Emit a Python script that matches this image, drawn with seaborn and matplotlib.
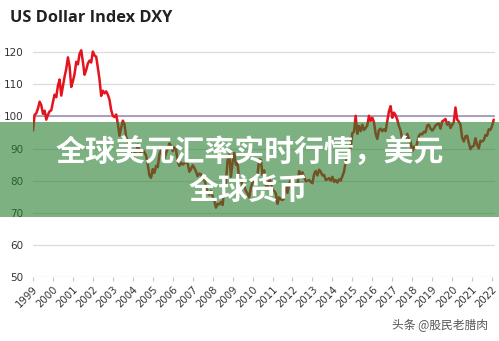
import numpy as np
import pandas as pd
import matplotlib
matplotlib.use("Agg")
import matplotlib.pyplot as plt
import seaborn as sns
from matplotlib.patches import Rectangle

# ---- data (monthly DXY) ----
start_year = 1999
dxy = [
    95.6, 100.5, 101.0, 102.5, 104.6, 103.5, 100.8, 101.8, 99.0, 100.5, 101.6, 101.9,   # 1999
    104.5, 106.8, 106.0, 109.6, 111.5, 106.5, 109.5, 112.4, 114.8, 118.4, 115.6, 109.2,  # 2000
    111.0, 113.2, 117.0, 116.2, 119.5, 120.6, 117.0, 113.0, 114.5, 116.5, 117.4, 116.8,  # 2001
    120.2, 119.0, 118.6, 115.2, 111.5, 106.4, 108.0, 107.2, 107.8, 106.8, 105.2, 102.0,  # 2002
    100.2, 99.8, 100.6, 97.8, 94.0, 96.4, 98.7, 97.6, 93.6, 92.6, 91.0, 87.4,            # 2003
    86.8, 88.6, 88.5, 91.2, 89.0, 88.8, 89.6, 88.9, 87.8, 85.0, 81.6, 80.9,              # 2004
    83.6, 82.4, 84.6, 84.2, 88.1, 89.6, 88.0, 86.6, 88.6, 90.0, 91.6, 90.9,              # 2005
    89.2, 90.4, 89.6, 86.0, 84.6, 85.6, 85.0, 85.4, 85.8, 85.4, 82.8, 83.6,              # 2006
    84.8, 84.0, 82.8, 81.4, 82.2, 82.0, 80.4, 81.0, 78.2, 76.4, 75.6, 76.8,              # 2007
    75.2, 73.8, 71.6, 72.8, 72.6, 73.4, 72.4, 77.4, 79.6, 86.4, 88.2, 81.2,              # 2008
    85.8, 88.6, 85.0, 85.6, 80.0, 80.2, 78.6, 78.2, 76.8, 76.0, 74.8, 77.8,              # 2009
    79.4, 80.6, 81.2, 82.0, 86.6, 86.4, 81.8, 83.2, 78.6, 77.4, 81.0, 79.2,              # 2010
    77.2, 76.8, 76.0, 72.8, 74.8, 74.2, 74.0, 74.4, 78.6, 76.2, 78.8, 80.4,              # 2011
    78.8, 78.4, 79.0, 78.6, 83.0, 81.8, 82.6, 81.2, 79.8, 80.0, 80.2, 79.6,              # 2012
    79.2, 82.0, 83.0, 81.6, 83.4, 82.8, 81.6, 81.8, 80.2, 80.4, 80.8, 80.0,              # 2013
    81.2, 79.6, 80.2, 79.4, 80.4, 80.0, 81.4, 82.8, 86.0, 87.0, 88.4, 90.4,              # 2014
    94.8, 95.2, 100.2, 94.6, 97.0, 95.4, 97.4, 95.8, 96.4, 97.2, 100.2, 98.6,            # 2015
    99.6, 98.2, 94.6, 93.0, 95.8, 96.2, 95.4, 96.0, 95.4, 98.4, 101.6, 103.2,            # 2016
    99.6, 101.2, 100.4, 99.0, 97.0, 95.6, 92.8, 92.6, 93.0, 94.6, 93.0, 92.2,            # 2017
    89.2, 90.6, 90.0, 91.8, 94.0, 94.6, 94.4, 95.2, 95.0, 97.2, 97.4, 96.2,              # 2018
    95.6, 96.2, 97.2, 97.6, 97.8, 96.2, 98.4, 98.8, 99.2, 97.4, 98.2, 96.4,              # 2019
    97.4, 98.2, 102.8, 99.0, 98.4, 97.4, 93.4, 92.2, 93.8, 94.0, 91.8, 89.8,             # 2020
    90.6, 90.8, 93.2, 91.2, 90.0, 92.4, 92.2, 92.6, 94.2, 94.0, 96.0, 95.8,              # 2021
    97.0, 99.0,                                                                         # 2022
]
years = list(range(1999, 2023))
y_ticks = [50, 60, 70, 80, 90, 100, 110, 120]
title = "US Dollar Index DXY"
overlay_lines = ["全球美元汇率实时行情，美元", "全球货币"]
watermark = "头条 @股民老腊肉"

df = pd.DataFrame({"t": start_year + np.arange(len(dxy)) / 12.0, "dxy": dxy})

sns.set_theme(style="white")
plt.rcParams["font.family"] = ["DejaVu Sans"]

fig = plt.figure(figsize=(4.99, 3.41), dpi=100)
fig.patch.set_facecolor("white")
ax = fig.add_axes([0.0661, 0.1877, 0.926, 0.678])

for v in y_ticks:
    ax.axhline(v, color="#dcdcdc", lw=0.9, zorder=0)
ax.axhline(100, color="#a898b4", lw=1.3, zorder=1)

sns.lineplot(data=df, x="t", y="dxy", ax=ax, color="#e3141e", lw=1.8, zorder=3)

ax.set_xlim(1999, 2022.15)
ax.set_ylim(50, 122)
ax.set_yticks(y_ticks)
ax.set_xticks(years)
ax.set_xticklabels([str(y) for y in years], rotation=45, ha="right",
                   rotation_mode="anchor", fontsize=7.3, color="#333333")
ax.set_yticklabels([str(v) for v in y_ticks], fontsize=7.5, color="#333333")
ax.set_xlabel("")
ax.set_ylabel("")
for s in ["top", "right", "left", "bottom"]:
    ax.spines[s].set_visible(False)
ax.tick_params(axis="y", length=0, pad=7)
ax.tick_params(axis="x", length=3, width=0.8, color="#c8c8c8", pad=2, direction="out",
               bottom=True)
ax.set_facecolor("white")

fig.text(0.02, 0.948, title, fontsize=11.8, fontweight="bold", color="#222222",
         ha="left", va="center", family=["Open Sans", "DejaVu Sans"])

# green translucent banner
fig.patches.append(Rectangle((0, 0.3636), 1, 0.2786, transform=fig.transFigure,
                             facecolor=(40/255, 125/255, 45/255), alpha=0.6,
                             edgecolor="none", zorder=10))
fig.text(0.5, 0.553, overlay_lines[0], fontsize=21.5, fontweight="bold", color="white",
         ha="center", va="center", family=["Noto Sans CJK SC", "DejaVu Sans"], zorder=11)
fig.text(0.497, 0.443, overlay_lines[1], fontsize=21.5, fontweight="bold", color="white",
         ha="center", va="center", family=["Noto Sans CJK SC", "DejaVu Sans"], zorder=11)

fig.text(0.978, 0.047, watermark, fontsize=8.5, color="#555555", ha="right", va="center",
         family=["Noto Sans CJK SC", "DejaVu Sans"])

fig.savefig("out.png", dpi=100)
